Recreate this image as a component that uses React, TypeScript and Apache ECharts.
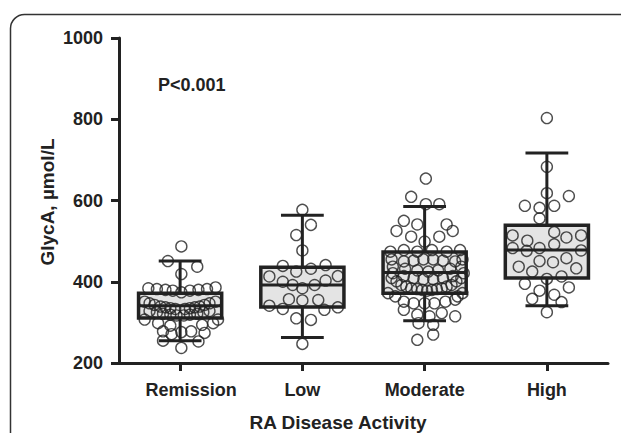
import React, { useEffect, useRef } from "react";
import * as echarts from "echarts";

const categories = ["Remission", "Low", "Moderate", "High"];
const yTicks = { min: 200, max: 1000, step: 200 };

const boxMin = [255, 263, 304, 341];
const boxQ1 = [311, 338, 372, 409];
const boxMedian = [341, 392, 423, 478];
const boxQ3 = [372, 436, 473, 539];
const boxMax = [451, 564, 585, 717];

// [horizontal offset within the category (category units), GlycA value]
const remissionPoints: [number, number][] = [
  [0.01, 487], [-0.1, 451], [0.14, 437], [0.01, 419],
  [-0.26, 384], [-0.19, 382], [-0.12, 380], [-0.06, 378], [0.01, 374], [0.08, 378], [0.15, 380], [0.22, 382], [0.29, 386],
  [-0.29, 351], [-0.25, 347], [-0.21, 343], [-0.16, 339], [-0.12, 337], [-0.08, 335], [-0.04, 333], [0.04, 333], [0.08, 335], [0.12, 337], [0.16, 339], [0.2, 343], [0.24, 347], [0.29, 351],
  [-0.25, 328], [-0.19, 325], [-0.14, 321], [-0.08, 319], [-0.03, 317], [0.03, 317], [0.08, 319], [0.14, 321], [0.19, 325], [0.24, 328],
  [-0.29, 307], [0.31, 307],
  [-0.18, 298], [-0.08, 292], [0.18, 294], [0.27, 298],
  [-0.14, 278], [-0.07, 271], [0.01, 276], [0.09, 278], [0.2, 274],
  [-0.14, 255], [0.15, 253],
  [0.01, 237],
];

const lowPoints: [number, number][] = [
  [0, 577], [0.07, 540], [-0.05, 515], [0, 477],
  [-0.16, 439], [-0.05, 425], [0.07, 432], [0.19, 441],
  [-0.27, 413], [-0.16, 400], [-0.08, 392], [0, 384], [0.1, 392], [0.19, 403], [0.29, 414],
  [-0.11, 357], [0, 354], [0.13, 355],
  [-0.27, 341], [-0.16, 333], [0.18, 331], [0.29, 337],
  [-0.05, 310], [0.07, 306],
  [0, 247],
];

const moderatePoints: [number, number][] = [
  [0.01, 654], [-0.11, 609], [0.01, 591], [0.12, 591],
  [-0.17, 550], [-0.06, 541], [0.18, 541], [-0.23, 525], [0.23, 525], [-0.11, 511], [0.12, 511], [0, 499],
  [-0.28, 474], [-0.17, 478], [-0.06, 474], [0.06, 478], [0.18, 474], [0.29, 478],
  [-0.27, 455], [-0.17, 450], [-0.09, 452], [-0.01, 455], [0.07, 455], [0.15, 452], [0.25, 450], [0.31, 455],
  [-0.26, 437], [-0.16, 432], [-0.06, 428], [0.03, 425], [0.11, 428], [0.21, 432], [0.3, 437],
  [-0.26, 421], [-0.17, 414], [-0.09, 409], [-0.01, 406], [0.07, 406], [0.15, 409], [0.23, 414], [0.32, 421],
  [-0.27, 409], [-0.23, 401], [-0.19, 392], [-0.15, 388], [-0.11, 384], [-0.06, 382], [-0.02, 380], [0.02, 378],
  [0.06, 380], [0.1, 382], [0.14, 384], [0.18, 388], [0.22, 392], [0.26, 401], [0.3, 409],
  [-0.3, 372], [0.31, 372], [-0.24, 364], [0.27, 364],
  [-0.17, 351], [-0.09, 347], [0, 347], [0.08, 347], [0.17, 351], [0.25, 356],
  [-0.17, 331], [-0.06, 319], [0.04, 315], [0.14, 323], [0.25, 315],
  [-0.05, 298], [0.07, 294], [0.07, 270], [-0.06, 257],
];

const highPoints: [number, number][] = [
  [0, 803], [0, 683], [0, 618], [0.18, 611], [-0.18, 587], [-0.06, 582], [0.06, 587], [-0.06, 556],
  [-0.28, 514], [-0.16, 501], [0.06, 522], [0.16, 509], [0.28, 514],
  [-0.28, 483], [-0.165, 476], [-0.06, 483], [0.06, 492], [0.28, 477],
  [-0.23, 437], [-0.06, 451], [0.05, 448], [0.16, 458], [0.24, 433],
  [-0.12, 425], [0, 407], [0.12, 413], [-0.18, 395], [0.18, 386], [-0.06, 378], [0.06, 368], [-0.12, 358], [0.12, 350], [0, 325],
];

const groups = [remissionPoints, lowPoints, moderatePoints, highPoints];

const pValueText = "P<0.001";
const yAxisTitle = "GlycA, µmol/L";
const xAxisTitle = "RA Disease Activity";

const INK = "#222";
const FONT = "'Liberation Sans', Arial, Helvetica, sans-serif";

export default function App() {
  const ref = useRef<HTMLDivElement>(null);

  useEffect(() => {
    document.body.style.margin = "0";
    if (!ref.current) return;
    const chart = echarts.init(ref.current, undefined, { renderer: "svg" });

    const boxData = categories.map((_, i) => [i, boxMin[i], boxQ1[i], boxMedian[i], boxQ3[i], boxMax[i]]);
    const scatterData: number[][] = [];
    groups.forEach((pts, i) => pts.forEach(([off, v]) => scatterData.push([i + off, v])));

    const labelStyle = { color: INK, fontFamily: FONT, fontWeight: "bold", fontSize: 18 };

    chart.setOption({
      animation: false,
      backgroundColor: "#fff",
      grid: { left: 119, right: 13, top: 38, bottom: 70, containLabel: false },
      xAxis: [
        {
          type: "category",
          data: categories,
          boundaryGap: true,
          axisLine: { show: true, onZero: false, lineStyle: { color: INK, width: 3 } },
          axisTick: { show: true, alignWithLabel: true, length: 8, lineStyle: { color: INK, width: 3 } },
          axisLabel: {
            ...labelStyle,
            interval: 0,
            hideOverlap: false,
            margin: 18,
            formatter: (v: string) => (v === "Remission" ? `{shift|${v}}` : v),
            rich: { shift: { ...labelStyle, padding: [0, 0, 0, 22] } },
          },
          splitLine: { show: false },
        },
        { type: "value", min: -0.5, max: 3.5, show: false },
      ],
      yAxis: {
        type: "value",
        min: yTicks.min,
        max: yTicks.max,
        interval: yTicks.step,
        axisLine: { show: true, onZero: false, lineStyle: { color: INK, width: 3 } },
        axisTick: { show: true, length: 8, lineStyle: { color: INK, width: 3 } },
        axisLabel: { ...labelStyle, margin: 16, formatter: (v: number) => String(v) },
        splitLine: { show: false },
      },
      graphic: [
        {
          type: "rect",
          z: -10,
          shape: { x: 10.5, y: 14.5, width: 700, height: 520, r: 14 },
          style: { fill: "none", stroke: "#333", lineWidth: 1.5 },
        },
        {
          type: "text",
          x: 47,
          y: 202,
          rotation: Math.PI / 2,
          style: {
            text: yAxisTitle,
            fill: INK,
            font: `bold 19px ${FONT}`,
            align: "center",
            verticalAlign: "middle",
          },
        },
        {
          type: "text",
          x: 338,
          y: 422,
          style: {
            text: xAxisTitle,
            fill: INK,
            font: `bold 19px ${FONT}`,
            align: "center",
            verticalAlign: "middle",
          },
        },
        {
          type: "text",
          x: 158,
          y: 85,
          style: {
            text: pValueText,
            fill: INK,
            font: `bold 18px ${FONT}`,
            align: "left",
            verticalAlign: "middle",
          },
        },
      ],
      series: [
        {
          type: "custom",
          xAxisIndex: 1,
          data: boxData,
          z: 2,
          renderItem: (params: any, api: any) => {
            const idx = api.value(0);
            const catW = api.size([1, 0])[0];
            const halfBox = catW * 0.34;
            const halfCap = catW * 0.175;
            const pMin = api.coord([idx, api.value(1)]);
            const pQ1 = api.coord([idx, api.value(2)]);
            const pMed = api.coord([idx, api.value(3)]);
            const pQ3 = api.coord([idx, api.value(4)]);
            const pMax = api.coord([idx, api.value(5)]);
            const cx = pMed[0];
            const line = (x1: number, y1: number, x2: number, y2: number) => ({
              type: "line",
              shape: { x1, y1, x2, y2 },
              style: { stroke: INK, lineWidth: 3 },
            });
            return {
              type: "group",
              children: [
                {
                  type: "rect",
                  shape: { x: cx - halfBox, y: pQ3[1], width: halfBox * 2, height: pQ1[1] - pQ3[1] },
                  style: { fill: "#e4e4e4", stroke: INK, lineWidth: 3.5 },
                },
                line(cx - halfBox, pMed[1], cx + halfBox, pMed[1]),
                line(cx, pQ3[1], cx, pMax[1]),
                line(cx, pQ1[1], cx, pMin[1]),
                line(cx - halfCap, pMax[1], cx + halfCap, pMax[1]),
                line(cx - halfCap, pMin[1], cx + halfCap, pMin[1]),
              ],
            };
          },
        },
        {
          type: "scatter",
          xAxisIndex: 1,
          data: scatterData,
          z: 3,
          symbol: "circle",
          symbolSize: 11,
          itemStyle: { color: "rgba(255,255,255,0)", borderColor: INK, borderWidth: 1.4 },
        },
      ],
    });

    return () => chart.dispose();
  }, []);

  return (
    <div
      ref={ref}
      style={{ position: "absolute", left: 0, top: 0, width: 621, height: 433 }}
    />
  );
}
